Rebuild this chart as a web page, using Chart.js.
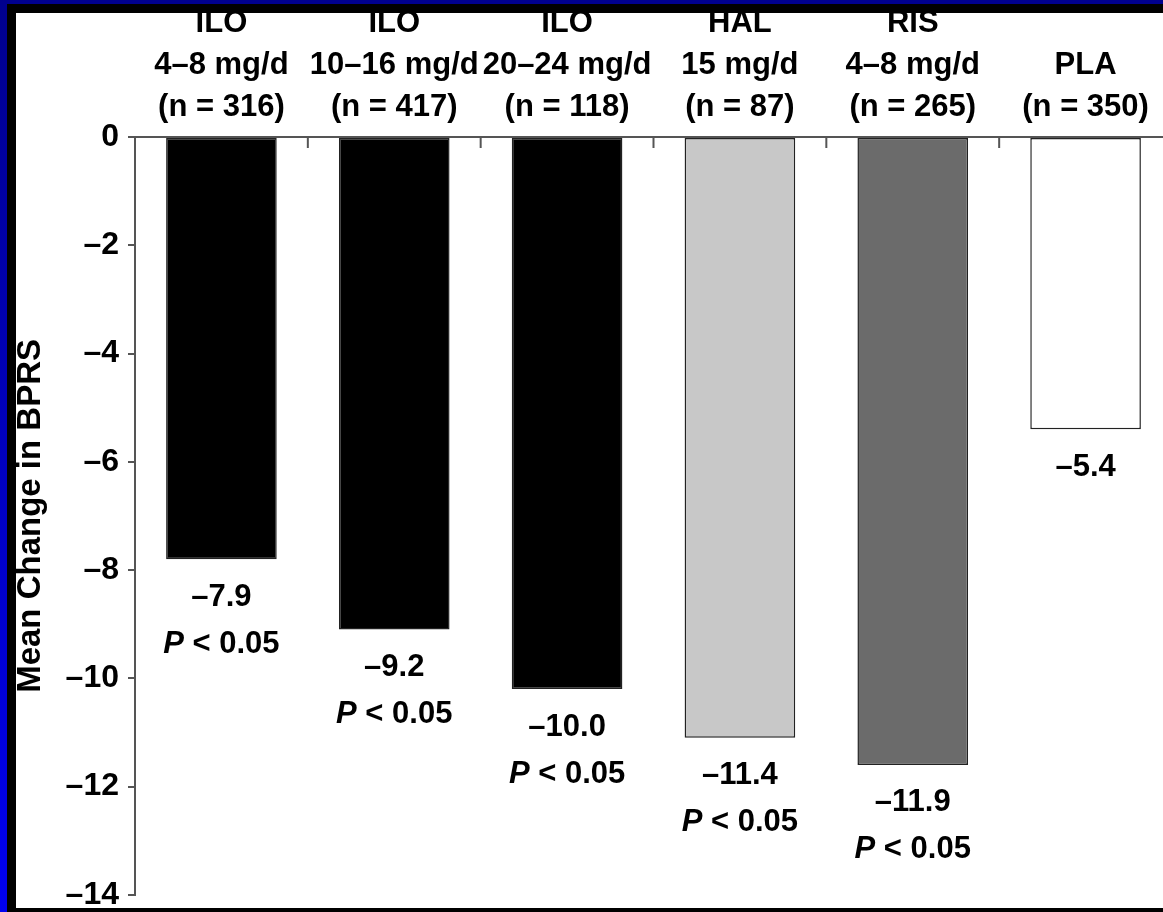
<!DOCTYPE html>
<html>
<head>
<meta charset="utf-8">
<script src="https://cdn.jsdelivr.net/npm/chart.js@4"></script>
<style>
  html, body { margin: 0; padding: 0; }
  body { width: 1163px; height: 912px; background: #000; position: relative; overflow: hidden; }
  #azul-arriba { position: absolute; left: 0; top: 0; width: 1163px; height: 4px; background: #00008e; }
  #azul-izq { position: absolute; left: 0; top: 0; width: 7px; height: 912px; background: linear-gradient(#00008e, #0000f0); }
  #panel { position: absolute; left: 16px; top: 13px; width: 1147px; height: 895px; background: #fff; overflow: hidden; }
  #lienzo { position: absolute; left: 0; top: 0; width: 1180px; height: 910px; }
</style>
</head>
<body>
<div id="azul-arriba"></div>
<div id="azul-izq"></div>
<div id="panel"><div id="lienzo"><canvas id="grafica"></canvas></div></div>
<script>
// Datos
const linea1 = ["ILO", "ILO", "ILO", "HAL", "RIS", ""];
const linea2 = ["4–8 mg/d", "10–16 mg/d", "20–24 mg/d", "15 mg/d", "4–8 mg/d", "PLA"];
const linea3 = ["(n = 316)", "(n = 417)", "(n = 118)", "(n = 87)", "(n = 265)", "(n = 350)"];
const cambioBPRS = [-7.8, -9.1, -10.2, -11.1, -11.6, -5.4];
const etiquetasValor = ["–7.9", "–9.2", "–10.0", "–11.4", "–11.9", "–5.4"];
const valoresP = ["0.05", "0.05", "0.05", "0.05", "0.05", ""];
const ticksY = [0, -2, -4, -6, -8, -10, -12, -14];

const coloresBarra = ["#000000", "#000000", "#000000", "#c8c8c8", "#6b6b6b", "#ffffff"];
const fuente = "'Liberation Sans', Arial, Helvetica, sans-serif";
const tamEtiqueta = 31;

// marcas hacia abajo entre categorias
const marcasX = {
  id: "marcasX",
  afterDraw(chart) {
    const x = chart.scales.x;
    const ctx = chart.ctx;
    const top = chart.chartArea.top;
    ctx.save();
    ctx.strokeStyle = "#555";
    ctx.lineWidth = 2;
    for (let i = 1; i <= x.ticks.length; i++) {
      const px = i < x.ticks.length
        ? (x.getPixelForValue(i - 1) + x.getPixelForValue(i)) / 2
        : x.getPixelForValue(i - 1) + (x.getPixelForValue(i - 1) - x.getPixelForValue(i - 2)) / 2;
      ctx.beginPath();
      ctx.moveTo(px, top);
      ctx.lineTo(px, top + 11);
      ctx.stroke();
    }
    ctx.restore();
  },
};

// etiquetas bajo cada barra
const etiquetasBarras = {
  id: "etiquetasBarras",
  afterDatasetsDraw(chart) {
    const ctx = chart.ctx;
    const meta = chart.getDatasetMeta(0);
    const normal = "bold " + tamEtiqueta + "px " + fuente;
    const cursiva = "italic bold " + tamEtiqueta + "px " + fuente;
    ctx.save();
    ctx.fillStyle = "#000";
    ctx.textBaseline = "middle";
    meta.data.forEach((barra, i) => {
      ctx.font = normal;
      ctx.textAlign = "center";
      ctx.fillText(etiquetasValor[i], barra.x, barra.y + 38);
      if (valoresP[i]) {
        const resto = " < " + valoresP[i];
        ctx.font = cursiva;
        const anchoP = ctx.measureText("P").width;
        ctx.font = normal;
        const anchoResto = ctx.measureText(resto).width;
        const x0 = barra.x - (anchoP + anchoResto) / 2;
        ctx.textAlign = "left";
        ctx.font = cursiva;
        ctx.fillText("P", x0, barra.y + 85);
        ctx.font = normal;
        ctx.fillText(resto, x0 + anchoP, barra.y + 85);
      }
    });
    ctx.restore();
  },
};

new Chart(document.getElementById("grafica"), {
  type: "bar",
  data: {
    labels: linea1.map((l, i) => [l, linea2[i], linea3[i]]),
    datasets: [
      {
        data: cambioBPRS,
        backgroundColor: coloresBarra,
        borderColor: "#222",
        borderWidth: 1.5,
        borderSkipped: false,
        categoryPercentage: 1,
        barPercentage: 0.64,
      },
    ],
  },
  options: {
    responsive: true,
    maintainAspectRatio: false,
    animation: false,
    layout: { padding: { left: 0, top: 0, right: 24, bottom: 25 } },
    plugins: { legend: { display: false }, tooltip: { enabled: false } },
    scales: {
      x: {
        position: "top",
        afterFit: (s) => { s.height = 124; },
        grid: { display: false, drawTicks: false },
        border: { display: true, color: "#555", width: 2 },
        ticks: {
          color: "#000",
          padding: 8,
          maxRotation: 0,
          autoSkip: false,
          font: { family: fuente, size: 31, weight: "bold", lineHeight: 1.36 },
        },
      },
      y: {
        min: -14,
        max: 0,
        afterFit: (s) => { s.width = 119; },
        afterBuildTicks: (s) => { s.ticks = ticksY.map((v) => ({ value: v })); },
        grid: { drawOnChartArea: false, drawTicks: true, tickLength: 7, color: "#555", lineWidth: 2 },
        border: { display: true, color: "#555", width: 2 },
        ticks: {
          color: "#000",
          padding: 9,
          callback: (v) => (v === 0 ? "0" : "–" + Math.abs(v)),
          font: { family: fuente, size: 32, weight: "bold" },
        },
        title: {
          display: true,
          text: "Mean Change in BPRS",
          color: "#000",
          padding: 0,
          font: { family: fuente, size: 33, weight: "bold", lineHeight: 0.9 },
        },
      },
    },
  },
  plugins: [marcasX, etiquetasBarras],
});
</script>
</body>
</html>
